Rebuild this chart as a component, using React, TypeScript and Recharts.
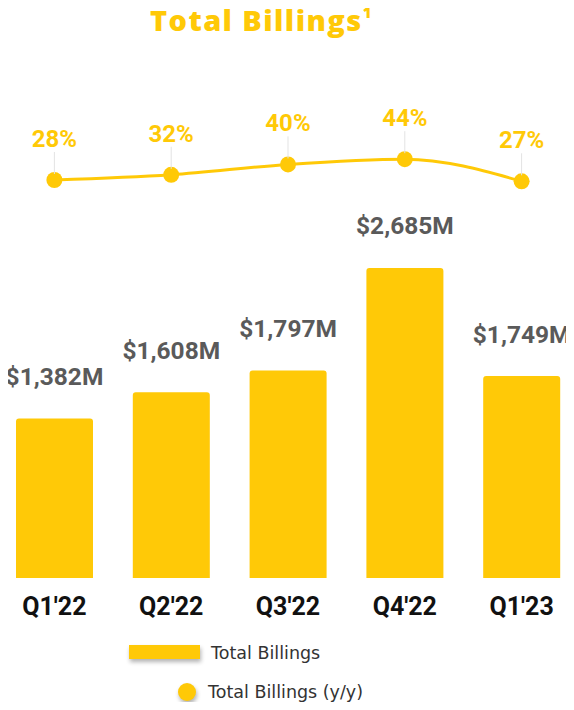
import React from 'react';
import { ComposedChart, Bar, Line, XAxis, YAxis, LabelList } from 'recharts';

const QUARTERS = ["Q1'22", "Q2'22", "Q3'22", "Q4'22", "Q1'23"];
const BILLINGS = [1382, 1608, 1797, 2685, 1749];
const GROWTH = [28, 32, 40, 44, 27];

const YELLOW = '#FFC907';
const data = QUARTERS.map((q, i) => ({ q, billings: BILLINGS[i], growth: GROWTH[i] }));

const BarLabel = (props: any) => {
  const { x, y, width, value } = props;
  return (
    <text x={x + width / 2} y={y - 42} textAnchor="middle" dominantBaseline="central"
      fill="#5a5a5a" fontSize={24.5} fontWeight={700} fontFamily="Roboto">
      {'$' + Number(value).toLocaleString('en-US') + 'M'}
    </text>
  );
};

const PctLabel = (props: any) => {
  const { x, y, value } = props;
  return (
    <g>
      <line x1={x} x2={x} y1={y - 28} y2={y - 6} stroke="#e3e3e3" strokeWidth={1} />
      <text x={x} y={y - 41} textAnchor="middle" dominantBaseline="central"
        fill={YELLOW} fontSize={24} fontWeight={700} fontFamily="Roboto">
        {value}%
      </text>
    </g>
  );
};

const legendText: React.CSSProperties = {
  position: 'absolute', fontFamily: '"DejaVu Sans"', fontSize: 17.5, color: '#333', whiteSpace: 'nowrap', lineHeight: '20px',
};

export default function App() {
  return (
    <div style={{ position: 'relative', margin: -8, width: 574, height: 710, overflow: 'hidden', background: '#fff' }}>
      <div style={{ position: 'absolute', left: 150, top: 0, fontFamily: '"Open Sans"', fontWeight: 800, fontSize: 29, letterSpacing: 1.4, color: YELLOW, whiteSpace: 'nowrap' }}>
        Total Billings<sup style={{ fontSize: 15, verticalAlign: 'top', position: 'relative', top: 2 }}>1</sup>
      </div>
      <div style={{ position: 'absolute', left: -4, top: 0 }}>
        <ComposedChart width={584} height={710} data={data} margin={{ top: 100, right: 0, bottom: 82, left: 0 }}>
          <XAxis dataKey="q" axisLine={false} tickLine={false} height={50} tickSize={0} tickMargin={19}
            tick={{ fontSize: 25, fontWeight: 700, fill: '#111', fontFamily: 'Roboto' }} interval={0} />
          <YAxis yAxisId="bar" hide domain={[0, 4140]} />
          <YAxis yAxisId="pct" hide domain={[-278, 89.5]} />
          <Bar yAxisId="bar" dataKey="billings" fill={YELLOW} barSize={77} radius={[3, 3, 0, 0]} isAnimationActive={false}>
            <LabelList dataKey="billings" content={BarLabel} />
          </Bar>
          <Line yAxisId="pct" type="monotone" dataKey="growth" stroke={YELLOW} strokeWidth={3}
            dot={{ r: 8, fill: YELLOW, stroke: 'none' }} activeDot={false} isAnimationActive={false}>
            <LabelList dataKey="growth" content={PctLabel} />
          </Line>
        </ComposedChart>
      </div>
      <div style={{ position: 'absolute', left: 129, top: 645, width: 71, height: 14, background: YELLOW, boxShadow: '1px 3px 4px rgba(0,0,0,0.3)' }} />
      <div style={{ ...legendText, left: 211, top: 643 }}>Total Billings</div>
      <div style={{ position: 'absolute', left: 178, top: 683, width: 18, height: 18, borderRadius: 9, background: YELLOW, boxShadow: '1px 3px 4px rgba(0,0,0,0.3)' }} />
      <div style={{ ...legendText, left: 208, top: 682 }}>Total Billings (y/y)</div>
    </div>
  );
}
